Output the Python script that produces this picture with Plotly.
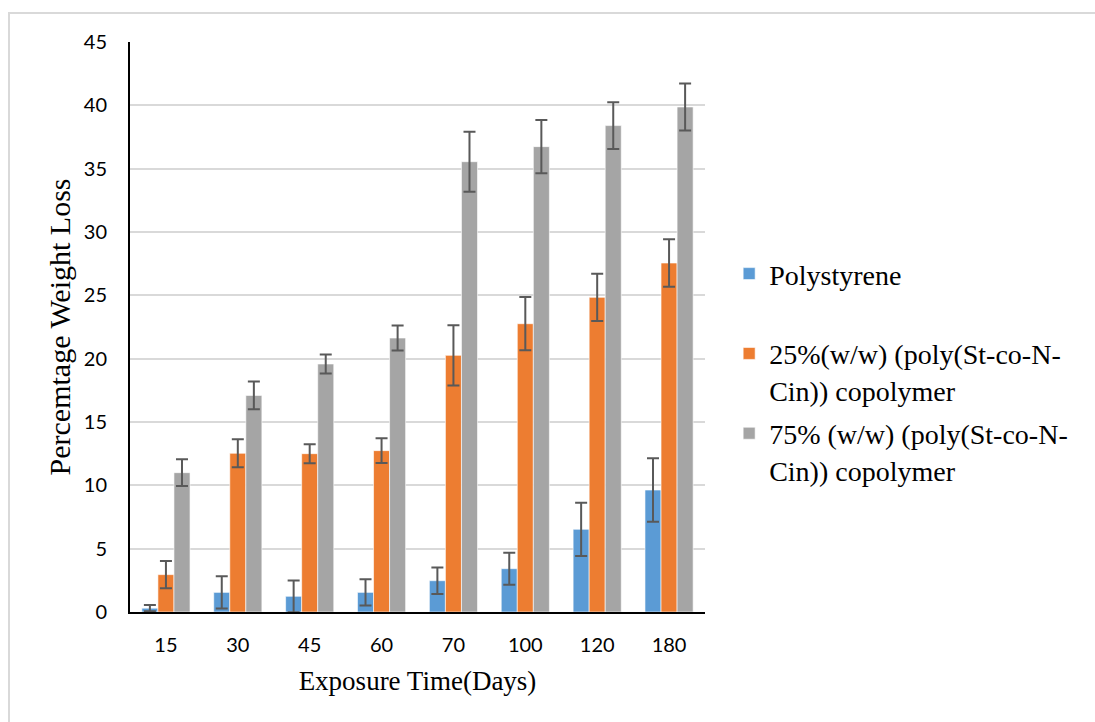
import plotly.graph_objects as go

days = ["15", "30", "45", "60", "70", "100", "120", "180"]
series_names = [
    "Polystyrene<br> ",
    "25%(w/w) (poly(St-co-N-<br>Cin)) copolymer",
    "75% (w/w) (poly(St-co-N-<br>Cin)) copolymer",
]
polystyrene = [0.3, 1.55, 1.24, 1.55, 2.47, 3.42, 6.53, 9.63]
polystyrene_err = [0.25, 1.27, 1.25, 1.03, 1.05, 1.26, 2.1, 2.5]
cop25 = [2.95, 12.53, 12.5, 12.74, 20.26, 22.76, 24.84, 27.55]
cop25_err = [1.08, 1.1, 0.75, 0.98, 2.37, 2.1, 1.86, 1.87]
cop75 = [11.0, 17.1, 19.58, 21.63, 35.55, 36.74, 38.4, 39.87]
cop75_err = [1.05, 1.1, 0.75, 0.98, 2.37, 2.1, 1.85, 1.86]
colors = ["#5b9bd5", "#ed7d31", "#a5a5a5"]

fig = go.Figure()
for i, (name, vals, errs) in enumerate(
    [(series_names[0], polystyrene, polystyrene_err),
     (series_names[1], cop25, cop25_err),
     (series_names[2], cop75, cop75_err)]
):
    fig.add_trace(go.Bar(
        x=days, y=vals, name=name, legendgroup=f"g{i}",
        marker=dict(color=colors[i], line=dict(color="rgba(255,255,255,0.6)", width=1)),
        error_y=dict(type="data", array=errs, visible=True, color="#595959",
                     thickness=2, width=6),
    ))

fig.update_layout(
    width=1095, height=722,
    margin=dict(l=130, r=390, t=42, b=110),
    paper_bgcolor="white", plot_bgcolor="white",
    barmode="group", bargap=0.33, bargroupgap=0,
    showlegend=True,
    legend=dict(x=1.042, y=0.637, xanchor="left", yanchor="top", valign="top",
                font=dict(family="Liberation Serif", size=28, color="#000000"),
                tracegroupgap=4, itemwidth=30, bgcolor="rgba(0,0,0,0)"),
    font=dict(family="Lato", size=20, color="#000000"),
    shapes=[dict(type="rect", xref="paper", yref="paper",
                 x0=-0.2104, x1=1.75, y0=1.0509, y1=-0.25,
                 line=dict(color="#d9d9d9", width=2), layer="below")],
)
fig.update_xaxes(
    showline=True, linecolor="#000000", linewidth=2,
    ticks="outside", ticklen=14, tickcolor="rgba(0,0,0,0)",
    tickfont=dict(family="Lato", size=20, color="#000000"),
    title=dict(text="Exposure Time(Days)", standoff=16,
               font=dict(family="Liberation Serif", size=27, color="#000000")),
)
fig.update_yaxes(
    range=[0, 45], dtick=5, showline=True, linecolor="#000000", linewidth=2,
    showgrid=True, gridcolor="#d9d9d9", gridwidth=2, zeroline=False,
    ticks="outside", ticklen=17, tickcolor="rgba(0,0,0,0)",
    tickfont=dict(family="Lato", size=20, color="#000000"),
    title=dict(text="Percemtage Weight Loss", standoff=4,
               font=dict(family="Liberation Serif", size=30, color="#000000")),
)

fig.write_html("out.html")
